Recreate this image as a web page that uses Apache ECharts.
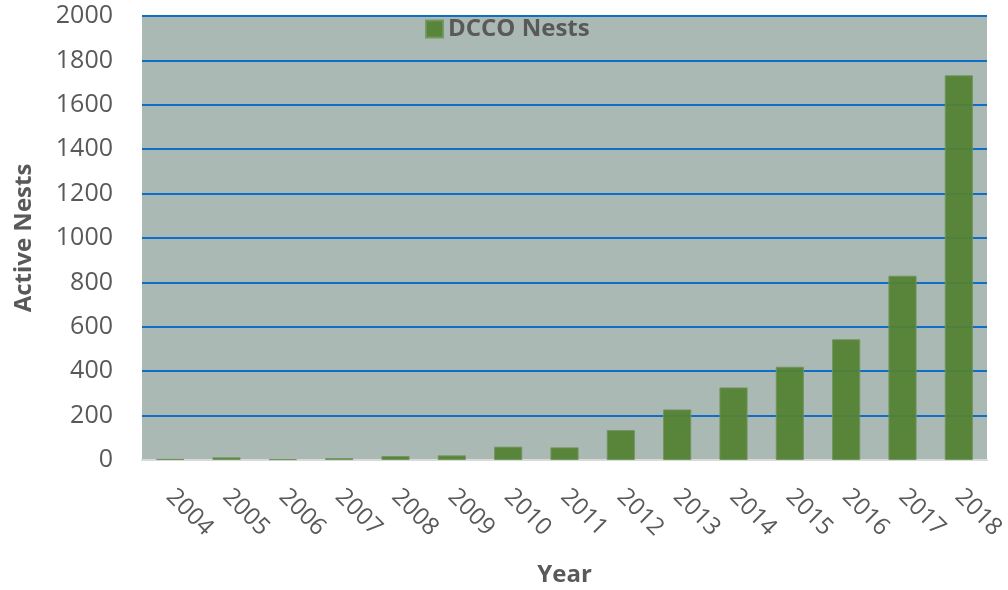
<!DOCTYPE html>
<html>
<head>
<meta charset="utf-8">
<script src="https://cdn.jsdelivr.net/npm/echarts@6/dist/echarts.min.js"></script>
<style>
  html, body { margin: 0; padding: 0; background: #fff; }
  #chart { width: 1008px; height: 590px; }
</style>
</head>
<body>
<div id="chart"></div>
<script>
// data
const years = ['2004', '2005', '2006', '2007', '2008', '2009', '2010', '2011',
  '2012', '2013', '2014', '2015', '2016', '2017', '2018']
const nests = [5, 12, 4, 9, 18, 21, 60, 57, 135, 228, 327, 420, 544, 830, 1733]
const seriesName = 'DCCO Nests'

const textColor = '#595959'
const font = 'Open Sans'

const chart = echarts.init(document.getElementById('chart'))

chart.setOption({
  backgroundColor: '#ffffff',
  textStyle: { fontFamily: font },
  legend: {
    data: [seriesName],
    left: 420,
    top: 12,
    icon: 'rect',
    itemWidth: 17,
    itemHeight: 17,
    itemGap: 6,
    textStyle: {
      fontFamily: font,
      fontSize: 24,
      fontWeight: 'bold',
      color: textColor
    }
  },
  grid: {
    left: 142,
    right: 21,
    top: 16,
    bottom: 130,
    outerBoundsMode: 'none',
    show: true,
    backgroundColor: '#aab9b3',
    borderWidth: 0
  },
  xAxis: {
    type: 'category',
    data: years,
    name: 'Year',
    nameLocation: 'middle',
    nameGap: 103,
    nameTextStyle: {
      fontFamily: font,
      fontSize: 24,
      fontWeight: 'bold',
      color: textColor
    },
    axisLine: { lineStyle: { color: '#d9d9d9', width: 2 } },
    axisTick: { show: false },
    axisLabel: {
      rotate: -45,
      margin: 33,
      fontFamily: font,
      fontSize: 24,
      color: textColor
    }
  },
  yAxis: {
    type: 'value',
    min: 0,
    max: 2000,
    interval: 200,
    name: 'Active Nests',
    nameLocation: 'middle',
    nameGap: 106,
    nameTextStyle: {
      fontFamily: font,
      fontSize: 24,
      fontWeight: 'bold',
      color: textColor
    },
    axisLine: { show: false },
    axisTick: { show: false },
    axisLabel: {
      margin: 29,
      fontFamily: font,
      fontSize: 25,
      color: textColor,
      formatter: v => String(v)
    },
    splitLine: {
      lineStyle: { color: '#0f6fc6', width: 2 }
    }
  },
  series: [{
    name: seriesName,
    type: 'bar',
    data: nests,
    barWidth: '50%',
    itemStyle: {
      color: 'rgba(84,130,53,0.95)',
      borderColor: 'rgba(112,150,92,0.9)',
      borderWidth: 1
    }
  }]
})
</script>
</body>
</html>
